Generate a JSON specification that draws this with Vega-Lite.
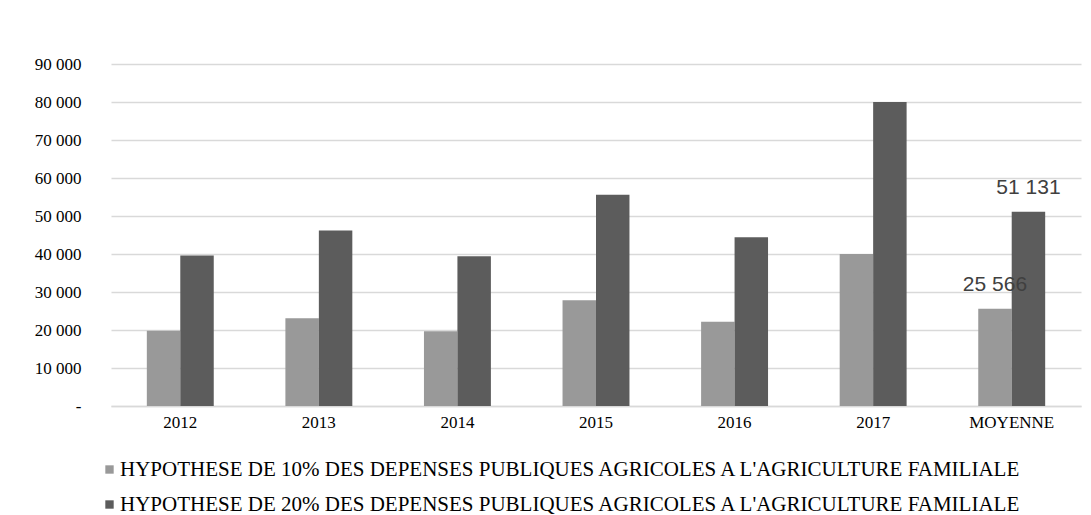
{
  "$schema": "https://vega.github.io/schema/vega-lite/v6.json",
  "width": 970,
  "height": 342,
  "autosize": {"type": "none"},
  "padding": {"left": 111, "top": 64, "right": 10, "bottom": 109},
  "background": "white",
  "config": {
    "locale": {"number": {"decimal": ",", "thousands": " ", "grouping": [3], "currency": ["", " €"]}},
    "view": {"stroke": null},
    "font": "Liberation Serif"
  },
  "data": {
    "values": [
      {"annee": "2012", "serie": "HYPOTHESE DE 10% DES DEPENSES PUBLIQUES AGRICOLES A L'AGRICULTURE FAMILIALE", "valeur": 19800},
      {"annee": "2012", "serie": "HYPOTHESE DE 20% DES DEPENSES PUBLIQUES AGRICOLES A L'AGRICULTURE FAMILIALE", "valeur": 39600},
      {"annee": "2013", "serie": "HYPOTHESE DE 10% DES DEPENSES PUBLIQUES AGRICOLES A L'AGRICULTURE FAMILIALE", "valeur": 23100},
      {"annee": "2013", "serie": "HYPOTHESE DE 20% DES DEPENSES PUBLIQUES AGRICOLES A L'AGRICULTURE FAMILIALE", "valeur": 46200},
      {"annee": "2014", "serie": "HYPOTHESE DE 10% DES DEPENSES PUBLIQUES AGRICOLES A L'AGRICULTURE FAMILIALE", "valeur": 19700},
      {"annee": "2014", "serie": "HYPOTHESE DE 20% DES DEPENSES PUBLIQUES AGRICOLES A L'AGRICULTURE FAMILIALE", "valeur": 39400},
      {"annee": "2015", "serie": "HYPOTHESE DE 10% DES DEPENSES PUBLIQUES AGRICOLES A L'AGRICULTURE FAMILIALE", "valeur": 27800},
      {"annee": "2015", "serie": "HYPOTHESE DE 20% DES DEPENSES PUBLIQUES AGRICOLES A L'AGRICULTURE FAMILIALE", "valeur": 55600},
      {"annee": "2016", "serie": "HYPOTHESE DE 10% DES DEPENSES PUBLIQUES AGRICOLES A L'AGRICULTURE FAMILIALE", "valeur": 22200},
      {"annee": "2016", "serie": "HYPOTHESE DE 20% DES DEPENSES PUBLIQUES AGRICOLES A L'AGRICULTURE FAMILIALE", "valeur": 44400},
      {"annee": "2017", "serie": "HYPOTHESE DE 10% DES DEPENSES PUBLIQUES AGRICOLES A L'AGRICULTURE FAMILIALE", "valeur": 40000},
      {"annee": "2017", "serie": "HYPOTHESE DE 20% DES DEPENSES PUBLIQUES AGRICOLES A L'AGRICULTURE FAMILIALE", "valeur": 80000},
      {"annee": "MOYENNE", "serie": "HYPOTHESE DE 10% DES DEPENSES PUBLIQUES AGRICOLES A L'AGRICULTURE FAMILIALE", "valeur": 25566},
      {"annee": "MOYENNE", "serie": "HYPOTHESE DE 20% DES DEPENSES PUBLIQUES AGRICOLES A L'AGRICULTURE FAMILIALE", "valeur": 51131}
    ]
  },
  "encoding": {
    "x": {
      "field": "annee", "type": "nominal", "sort": null,
      "scale": {"paddingInner": 0.517, "paddingOuter": 0.2585},
      "axis": {
        "title": null, "labelAngle": 0, "labelFont": "Liberation Serif", "labelFontSize": 17,
        "labelColor": "#000000", "ticks": false, "domain": true, "domainColor": "#d9d9d9",
        "domainWidth": 1.5, "labelPadding": 8, "grid": false
      }
    },
    "xOffset": {"field": "serie", "type": "nominal", "scale": {"paddingInner": 0, "paddingOuter": 0}},
    "y": {
      "field": "valeur", "type": "quantitative",
      "scale": {"domain": [0, 90000], "nice": false},
      "axis": {
        "title": null, "values": [0, 10000, 20000, 30000, 40000, 50000, 60000, 70000, 80000, 90000],
        "labelExpr": "datum.value == 0 ? '-\u00a0\u00a0' : format(datum.value, ',')",
        "labelFont": "Liberation Serif", "labelFontSize": 17, "labelColor": "#000000",
        "ticks": false, "domain": false, "labelPadding": 30,
        "gridColor": "#d9d9d9", "gridWidth": 1.5
      }
    }
  },
  "layer": [
    {
      "mark": {"type": "bar"},
      "encoding": {
        "color": {
          "field": "serie", "type": "nominal",
          "scale": {"range": ["#999999", "#5c5c5c"]},
          "legend": {
            "title": null, "orient": "none", "legendX": -12, "legendY": 395,
            "direction": "vertical", "symbolType": "square", "symbolSize": 70,
            "labelFont": "Liberation Serif", "labelFontSize": 21, "labelColor": "#000000",
            "labelLimit": 1000, "rowPadding": 13, "labelOffset": 0
          }
        }
      }
    },
    {
      "transform": [{"filter": "datum.annee == 'MOYENNE'"}],
      "mark": {"type": "text", "font": "Liberation Sans", "fontSize": 21, "color": "#404040", "dy": -18, "baseline": "alphabetic", "align": "center"},
      "encoding": {
        "text": {"field": "valeur", "type": "quantitative", "format": ","}
      }
    }
  ]
}
